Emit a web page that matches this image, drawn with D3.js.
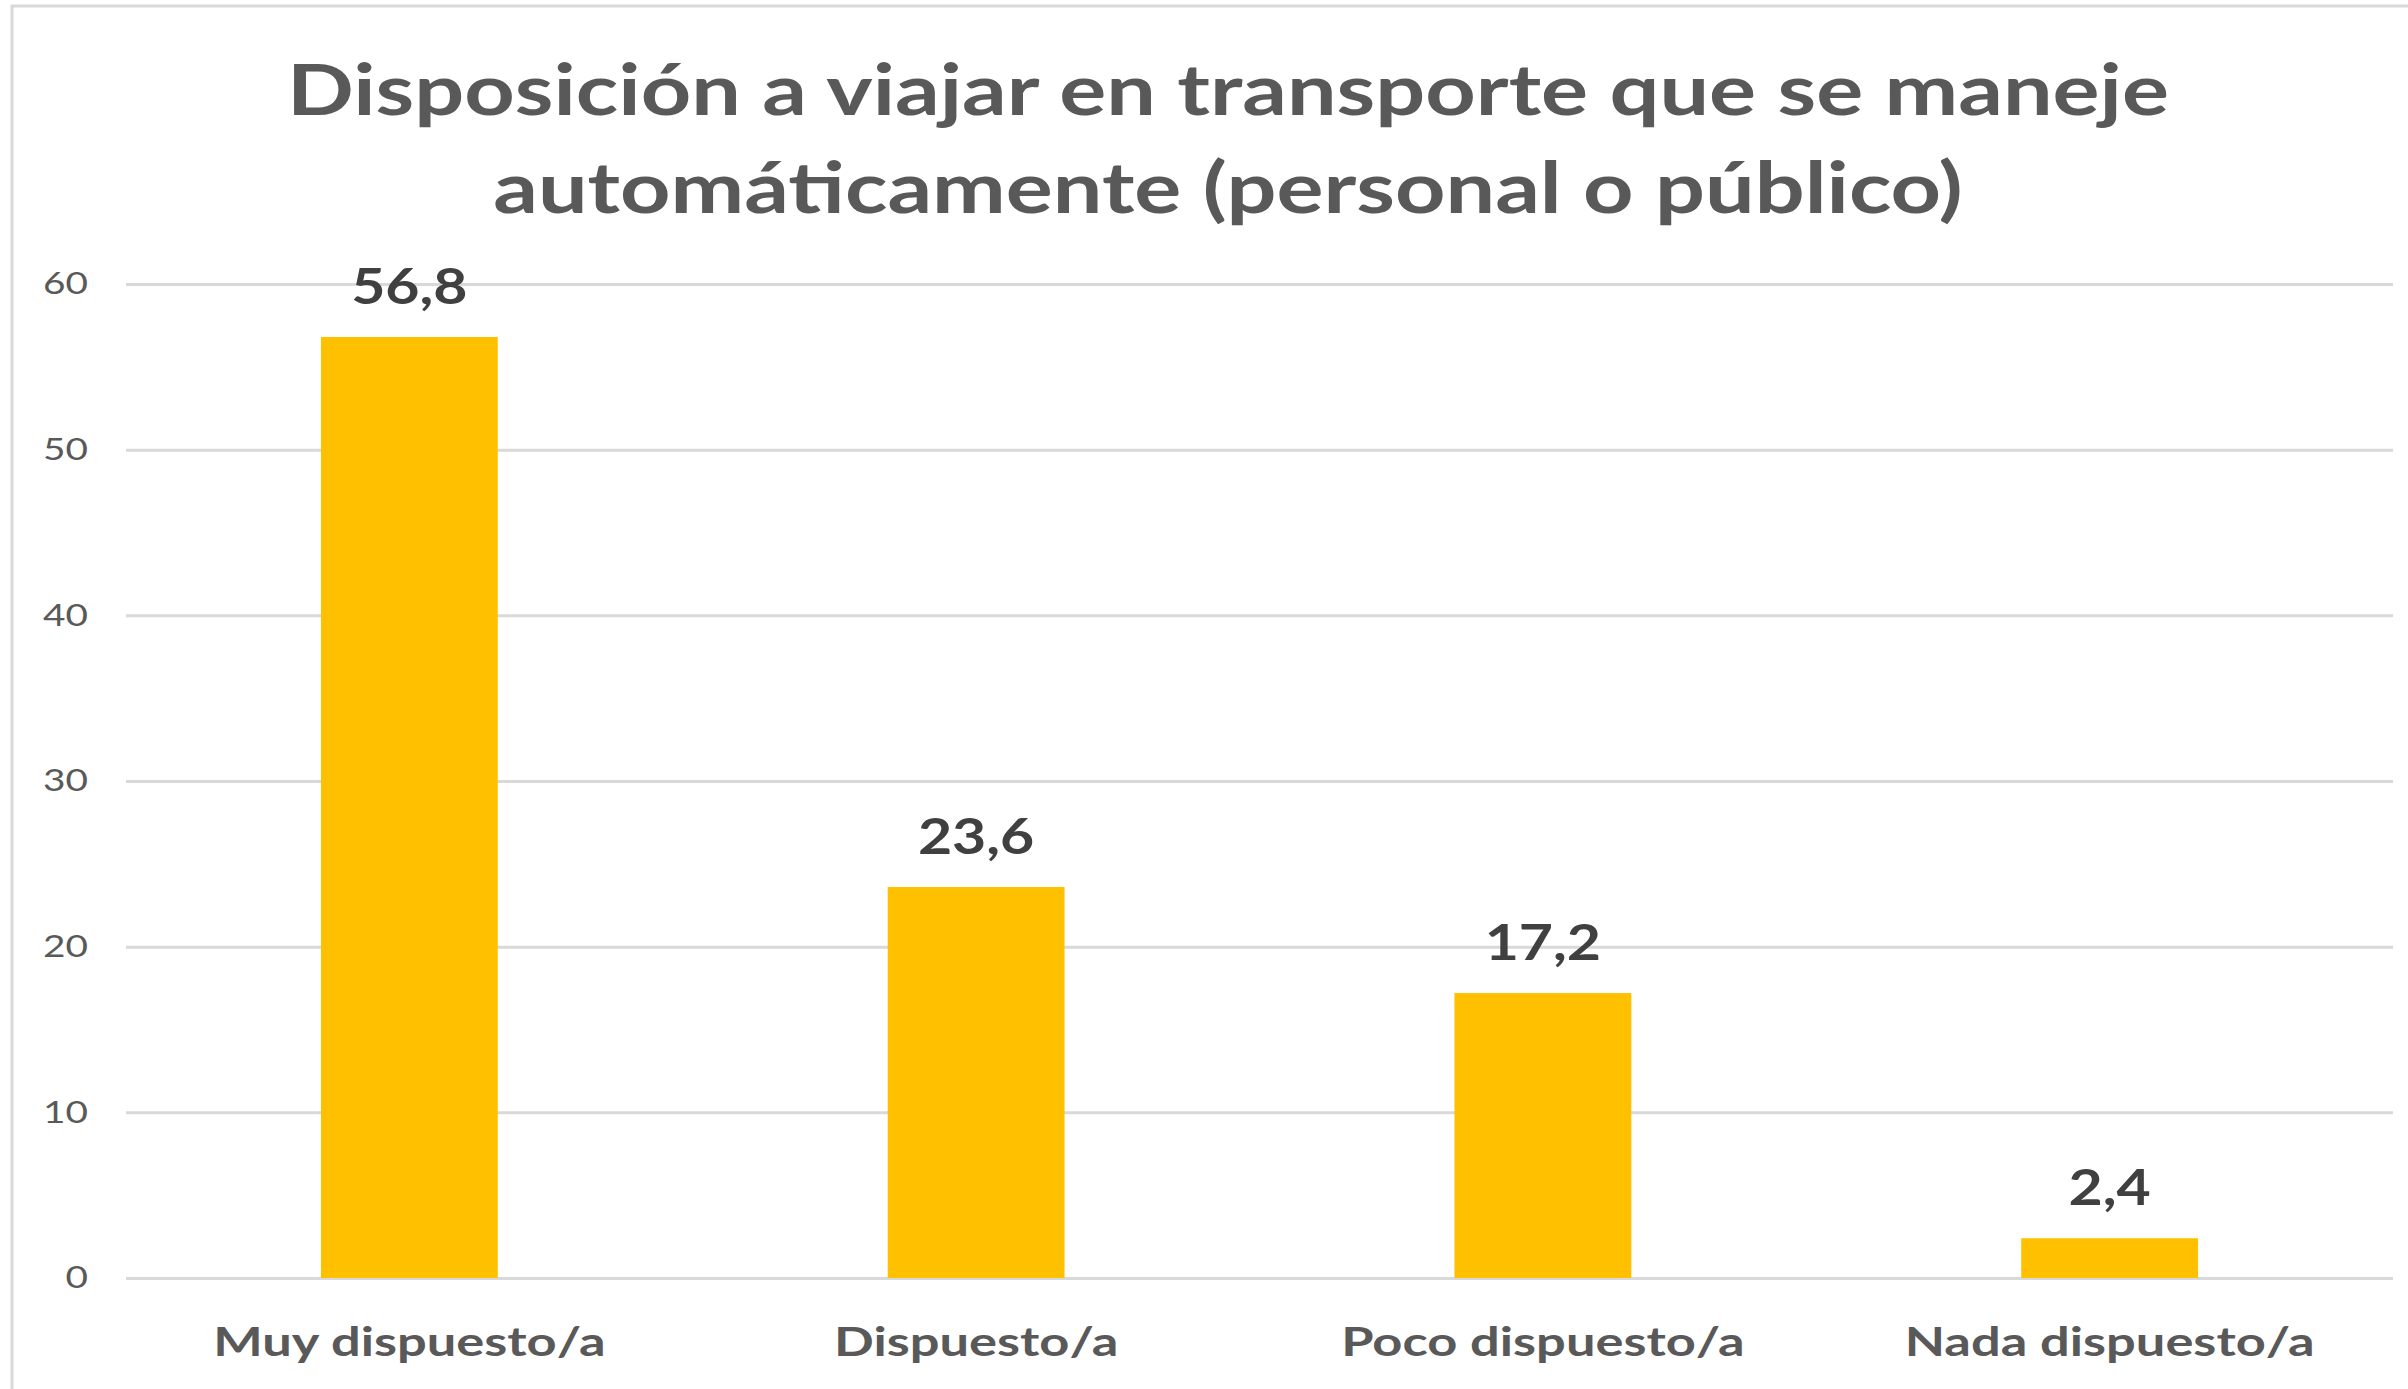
<!DOCTYPE html>
<html>
<head>
<meta charset="utf-8">
<script src="https://cdn.jsdelivr.net/npm/d3@7"></script>
<style>
	body { margin: 0; background: #fff; }
	text { font-family: Lato, 'Open Sans', sans-serif; }
</style>
</head>
<body>
<script>
let categories = ['Muy dispuesto/a', 'Dispuesto/a', 'Poco dispuesto/a', 'Nada dispuesto/a']
let values = [56.8, 23.6, 17.2, 2.4]
let yTicks = [0, 10, 20, 30, 40, 50, 60]
let titleLines = ['Disposición a viajar en transporte que se maneje', 'automáticamente (personal o público)']

let width = 2408
let height = 1389
let margin = {top: 284, right: 15, bottom: 111, left: 126}

// the source picture is stretched sideways, so the text is too
let stretch = (cx, sx) => `translate(${cx},0) scale(${sx},1) translate(${-cx},0)`

let svg = d3.select('body').append('svg')
	.attr('width', width).attr('height', height)

// chart frame
svg.append('rect')
	.attr('x', 12).attr('y', 6)
	.attr('width', width + 20).attr('height', height + 20)
	.attr('fill', 'none').attr('stroke', '#d9d9d9').attr('stroke-width', 3)

let x = d3.scaleBand()
	.domain(categories)
	.range([margin.left, width - margin.right])
	.padding(0)

let y = d3.scaleLinear()
	.domain([0, 60])
	.range([height - margin.bottom, margin.top])

let barWidth = x.bandwidth() * 0.312

// gridlines + tick labels
let yAxis = d3.axisLeft(y)
	.tickValues(yTicks)
	.tickSize(-(width - margin.right - margin.left))
	.tickPadding(38)
	.tickFormat(d3.format('d'))

let gy = svg.append('g')
	.attr('transform', `translate(${margin.left},0)`)
	.call(yAxis)
gy.select('.domain').remove()
gy.selectAll('.tick line').attr('stroke', '#d9d9d9').attr('stroke-width', 3)
gy.selectAll('.tick text')
	.attr('fill', '#595959')
	.attr('transform', stretch(-38, 1.25))
	.style('font-size', '31px')

svg.append('g').selectAll('rect')
	.data(values)
	.join('rect')
	.attr('x', (d, i) => x(categories[i]) + x.bandwidth()/2 - barWidth/2)
	.attr('y', d => y(d))
	.attr('width', barWidth)
	.attr('height', d => y(0) - y(d))
	.attr('fill', '#ffc000')

svg.append('g').selectAll('text')
	.data(values)
	.join('text')
	.attr('x', (d, i) => x(categories[i]) + x.bandwidth()/2)
	.attr('y', d => y(d) - 33)
	.attr('transform', (d, i) => stretch(x(categories[i]) + x.bandwidth()/2, 1.18))
	.attr('text-anchor', 'middle')
	.attr('fill', '#404040')
	.style('font-size', '50px').style('font-weight', 'bold')
	.text(d => d3.format('.1f')(d).replace('.', ','))

// category axis
let xAxis = d3.axisBottom(x).tickSize(0).tickPadding(0)
let gx = svg.append('g')
	.attr('transform', `translate(0,${height - margin.bottom})`)
	.call(xAxis)
gx.select('.domain').remove()
gx.selectAll('.tick text')
	.attr('y', 78).attr('dy', 0)
	.attr('transform', 'scale(1.31,1)')
	.attr('fill', '#595959')
	.style('font-size', '40px').style('font-weight', 'bold')

svg.append('g').selectAll('text')
	.data(titleLines)
	.join('text')
	.attr('x', 1228)
	.attr('y', (d, i) => 115 + i * 98)
	.attr('transform', stretch(1228, 1.24))
	.attr('text-anchor', 'middle')
	.attr('fill', '#595959')
	.style('font-size', '71px').style('font-weight', 'bold')
	.text(d => d)
</script>
</body>
</html>
